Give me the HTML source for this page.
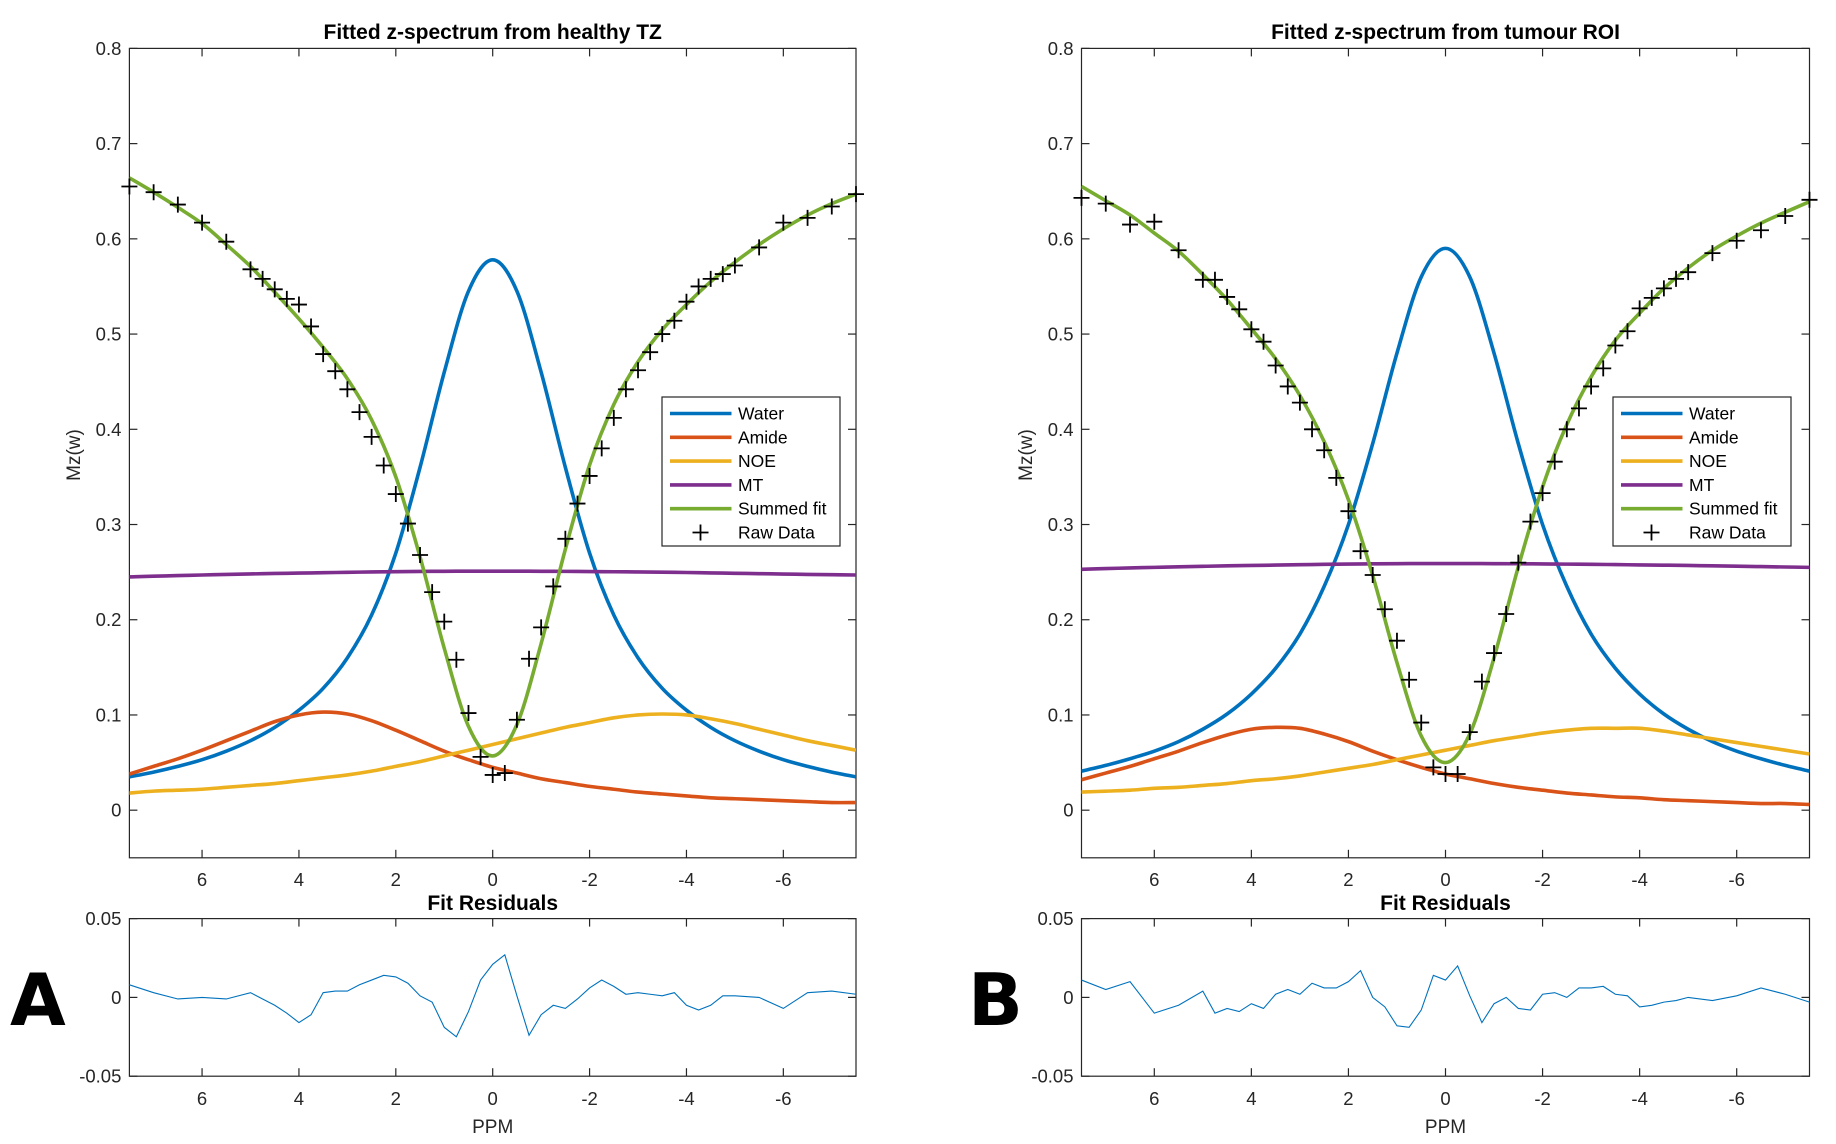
<!DOCTYPE html>
<html><head><meta charset="utf-8"><style>
html,body{margin:0;padding:0;background:#fff;}
svg{display:block;font-family:"Liberation Sans",sans-serif;}
</style></head><body>
<svg id="fig" width="1836" height="1144" viewBox="0 0 1836 1144" xmlns="http://www.w3.org/2000/svg"></svg>
<script>
// ---- shared data ----
const gridX = [7.5,7,6.5,6,5.5,5,4.5,4,3.5,3,2.5,2,1.5,1,0.5,0,-0.5,-1,-1.5,-2,-2.5,-3,-3.5,-4,-4.5,-5,-5.5,-6,-6.5,-7,-7.5];
const rawX = [7.5,7,6.5,6,5.5,5,4.75,4.5,4.25,4,3.75,3.5,3.25,3,2.75,2.5,2.25,2,1.75,1.5,1.25,1,0.75,0.5,0.25,0,-0.25,-0.5,-0.75,-1,-1.25,-1.5,-1.75,-2,-2.25,-2.5,-2.75,-3,-3.25,-3.5,-3.75,-4,-4.25,-4.5,-4.75,-5,-5.5,-6,-6.5,-7,-7.5];
const yTicks = [0.8,0.7,0.6,0.5,0.4,0.3,0.2,0.1,0];
const yTickLabels = ["0.8","0.7","0.6","0.5","0.4","0.3","0.2","0.1","0"];
const xTicks = [6,4,2,0,-2,-4,-6];
const xTickLabels = ["6","4","2","0","-2","-4","-6"];
const rTicks = [0.05,0,-0.05];
const rTickLabels = ["0.05","0","-0.05"];
const seriesNames = ["Water","Amide","NOE","MT","Summed fit","Raw Data"];

// ---- panel A (healthy TZ) ----
const waterA = [.035,.040,.046,.053,.062,.073,.087,.105,.128,.160,.205,.27,.36,.46,.545,.578,.545,.46,.36,.27,.205,.160,.128,.105,.087,.073,.062,.053,.046,.040,.035];
const amideA = [.038,.046,.054,.063,.073,.083,.093,.100,.103,.101,.094,.084,.073,.062,.053,.045,.039,.033,.029,.025,.022,.019,.017,.015,.013,.012,.011,.010,.009,.008,.008];
const noeA = [.018,.020,.021,.022,.024,.026,.028,.031,.034,.037,.041,.046,.051,.057,.063,.069,.075,.081,.087,.092,.097,.100,.101,.100,.096,.091,.085,.079,.073,.068,.063];
const mtA = [.2450,.2457,.2464,.2470,.2476,.2481,.2486,.2490,.2494,.2498,.2502,.2505,.2507,.2509,.2510,.2510,.2510,.2509,.2508,.2506,.2504,.2502,.2499,.2496,.2492,.2488,.2484,.2480,.2476,.2473,.2470];
const fitA = [.664,.649,.633,.616,.594,.571,.544,.516,.486,.453,.41,.35,.266,.17,.088,.057,.09,.175,.274,.3625,.426,.471,.5045,.531,.555,.5755,.594,.6105,.625,.637,.647];
const rawA = [.655,.649,.636,.617,.597,.568,.558,.547,.537,.531,.508,.479,.461,.442,.418,.392,.362,.332,.301,.268,.229,.198,.158,.102,.056,.037,.039,.095,.159,.192,.235,.285,.322,.351,.38,.412,.442,.462,.481,.5,.514,.534,.55,.558,.563,.572,.591,.617,.622,.634,.647];
const resA = [.008,.003,-.001,0,-.001,.003,-.001,-.005,-.01,-.016,-.011,.003,.004,.004,.008,.011,.014,.013,.009,.001,-.003,-.019,-.025,-.009,.011,.021,.027,.001,-.024,-.011,-.005,-.007,-.001,.006,.011,.007,.002,.003,.002,.001,.003,-.005,-.008,-.005,.001,.001,0,-.007,.003,.004,.002];

// ---- panel B (tumour ROI) ----
const waterB = [.041,.047,.054,.062,.072,.085,.101,.122,.149,.185,.235,.30,.385,.48,.56,.59,.56,.48,.385,.30,.235,.185,.149,.122,.101,.085,.072,.062,.054,.047,.041];
const amideB = [.032,.039,.046,.054,.062,.071,.079,.085,.087,.086,.080,.072,.062,.053,.045,.038,.033,.028,.024,.021,.018,.016,.014,.013,.011,.010,.009,.008,.007,.007,.006];
const noeB = [.019,.020,.021,.023,.024,.026,.028,.031,.033,.036,.040,.044,.048,.053,.058,.063,.068,.073,.077,.081,.084,.086,.086,.086,.083,.079,.075,.071,.067,.063,.059];
const mtB = [.2530,.2537,.2544,.2550,.2556,.2561,.2566,.2570,.2574,.2578,.2582,.2585,.2587,.2589,.2590,.2590,.2590,.2589,.2588,.2586,.2584,.2582,.2579,.2576,.2573,.2570,.2566,.2562,.2558,.2554,.2550];
const fitB = [.655,.64,.625,.606,.587,.5625,.536,.5055,.474,.4355,.387,.326,.2465,.155,.078,.05,.08,.16,.2555,.3395,.405,.455,.4935,.522,.548,.5695,.588,.603,.6165,.628,.639];
const rawB = [.643,.637,.615,.618,.588,.557,.557,.539,.526,.505,.492,.467,.445,.428,.4,.378,.349,.314,.272,.247,.211,.178,.137,.092,.045,.038,.038,.082,.135,.165,.206,.26,.303,.333,.366,.4,.422,.445,.464,.488,.503,.527,.538,.548,.558,.565,.585,.598,.609,.624,.641];
const resB = [.011,.005,.01,-.01,-.005,.004,-.01,-.007,-.009,-.004,-.007,.002,.005,.002,.009,.006,.006,.01,.017,0,-.006,-.018,-.019,-.008,.014,.011,.02,.001,-.016,-.004,0,-.007,-.008,.002,.003,0,.006,.006,.007,.002,.001,-.006,-.005,-.003,-.002,0,-.002,.001,.006,.002,-.003];

const NS = "http://www.w3.org/2000/svg";
const svg = document.getElementById('fig');
function el(tag, attrs, parent){
  const e = document.createElementNS(NS, tag);
  for (const k in attrs) e.setAttribute(k, attrs[k]);
  (parent||svg).appendChild(e);
  return e;
}
function smoothPath(pts){
  let d = "M"+pts[0][0].toFixed(2)+","+pts[0][1].toFixed(2);
  for (let i=0;i<pts.length-1;i++){
    const p0=pts[Math.max(0,i-1)], p1=pts[i], p2=pts[i+1], p3=pts[Math.min(pts.length-1,i+2)];
    const c1x=p1[0]+(p2[0]-p0[0])/6, c1y=p1[1]+(p2[1]-p0[1])/6;
    const c2x=p2[0]-(p3[0]-p1[0])/6, c2y=p2[1]-(p3[1]-p1[1])/6;
    d+=" C"+c1x.toFixed(2)+","+c1y.toFixed(2)+" "+c2x.toFixed(2)+","+c2y.toFixed(2)+" "+p2[0].toFixed(2)+","+p2[1].toFixed(2);
  }
  return d;
}
const colors = ["#0072BD","#D95319","#EDB120","#7E2F8E","#77AC30"];

function panel(cfg){
  const L=cfg.left, R=cfg.right, T=48.4, B=857.8, RT=918.6, RB=1076.2;
  const g = el('g',{});
  
  
  const sx = v => L + (7.5 - v)/15*(R-L);
  const sy = v => T + (0.8 - v)/0.85*(B-T);
  const ry = v => RT + (0.05 - v)/0.1*(RB-RT);

  const t = el('text',{x:(L+R)/2,y:39,'text-anchor':'middle','font-size':21,'font-weight':'bold',fill:'#000'},g);
  t.textContent = cfg.title;
  
  

  const box = el('rect',{x:L,y:T,width:R-L,height:B-T,fill:'none',stroke:'#262626','stroke-width':1.2},g);
  
  
  yTicks.forEach((v,i)=>{
    const y=sy(v);
    el('line',{x1:L,x2:L+8,y1:y,y2:y,stroke:'#262626','stroke-width':1.2},g);
    el('line',{x1:R,x2:R-8,y1:y,y2:y,stroke:'#262626','stroke-width':1.2},g);
    const tx = el('text',{x:L-8,y:y+6.5,'text-anchor':'end','font-size':18.5,fill:'#262626'},g);
    tx.textContent = yTickLabels[i];
    
    
  });
  xTicks.forEach((v,i)=>{
    const x=sx(v);
    el('line',{x1:x,x2:x,y1:B,y2:B-8,stroke:'#262626','stroke-width':1.2},g);
    el('line',{x1:x,x2:x,y1:T,y2:T+8,stroke:'#262626','stroke-width':1.2},g);
    const tx = el('text',{x:x,y:886,'text-anchor':'middle','font-size':18.5,fill:'#262626'},g);
    tx.textContent = xTickLabels[i];
    
    
  });
  const yl = el('text',{x:0,y:0,'text-anchor':'middle','font-size':19,fill:'#262626',transform:'translate('+(cfg.ylabX)+',455) rotate(-90)'},g);
  yl.textContent = "Mz(w)";
  
  

  const clip = el('clipPath',{id:'clip'+cfg.id},g);
  el('rect',{x:L,y:T,width:R-L,height:B-T},clip);
  const series=[cfg.water,cfg.amide,cfg.noe,cfg.mt,cfg.fit];
  const sNames=['water-curve','amide-curve','noe-curve','mt-curve','summed-fit-curve'];
  series.forEach((arr,si)=>{
    const pts = gridX.map((x,i)=>[sx(x),sy(arr[i])]);
    const p = el('path',{d:smoothPath(pts),fill:'none',stroke:colors[si],'stroke-width':3.6,'stroke-linejoin':'round','clip-path':'url(#clip'+cfg.id+')'},g);
    
    
  });
  rawX.forEach((x,i)=>{
    const cx=sx(x), cy=sy(cfg.raw[i]);
    const m = el('path',{d:`M${cx-8},${cy}H${cx+8}M${cx},${cy-8}V${cy+8}`,stroke:'#000','stroke-width':1.8,fill:'none'},g);
    
    
  });

  const lx=cfg.legX, ly=397;
  const lg = el('g',{},g);
  
  
  el('rect',{x:lx,y:ly,width:178,height:149,fill:'#fff',stroke:'#262626','stroke-width':1.2},lg);
  seriesNames.forEach((n,i)=>{
    const yy = 413.5 + i*23.8;
    const ent = el('g',{},lg);
    
    
    if(i<5){
      el('line',{x1:lx+8,x2:lx+69.5,y1:yy,y2:yy,stroke:colors[i],'stroke-width':3.6},ent);
    } else {
      const cx=lx+38.5;
      el('path',{d:`M${cx-8},${yy}H${cx+8}M${cx},${yy-8}V${yy+8}`,stroke:'#000','stroke-width':1.8},ent);
    }
    const tx = el('text',{x:lx+76,y:yy+6,'font-size':17.5,fill:'#000'},ent);
    tx.textContent = n;
  });

  const rt = el('text',{x:(L+R)/2,y:910,'text-anchor':'middle','font-size':21,'font-weight':'bold',fill:'#000'},g);
  rt.textContent = "Fit Residuals";
  
  
  const rbox = el('rect',{x:L,y:RT,width:R-L,height:RB-RT,fill:'none',stroke:'#262626','stroke-width':1.2},g);
  
  
  rTicks.forEach((v,i)=>{
    const y=ry(v);
    el('line',{x1:L,x2:L+8,y1:y,y2:y,stroke:'#262626','stroke-width':1.2},g);
    el('line',{x1:R,x2:R-8,y1:y,y2:y,stroke:'#262626','stroke-width':1.2},g);
    const tx = el('text',{x:L-8,y:y+6.5,'text-anchor':'end','font-size':18.5,fill:'#262626'},g);
    tx.textContent = rTickLabels[i];
    
    
  });
  xTicks.forEach((v,i)=>{
    const x=sx(v);
    el('line',{x1:x,x2:x,y1:RB,y2:RB-8,stroke:'#262626','stroke-width':1.2},g);
    el('line',{x1:x,x2:x,y1:RT,y2:RT+8,stroke:'#262626','stroke-width':1.2},g);
    const tx = el('text',{x:x,y:1105,'text-anchor':'middle','font-size':18.5,fill:'#262626'},g);
    tx.textContent = xTickLabels[i];
    
    
  });
  const rl = el('polyline',{points:rawX.map((x,i)=>sx(x).toFixed(2)+','+ry(cfg.res[i]).toFixed(2)).join(' '),fill:'none',stroke:'#0072BD','stroke-width':1.1},g);
  
  
  const px = el('text',{x:(L+R)/2,y:1133,'text-anchor':'middle','font-size':19,fill:'#262626'},g);
  px.textContent = "PPM";
  
  

  const pl = el('text',{x:cfg.letterX,y:1025,'font-size':72,'font-weight':'bold',fill:'#000','font-family':'"DejaVu Sans","Liberation Sans",sans-serif'},g);
  pl.textContent = cfg.letter;
  
  
}

panel({id:'healthy',title:'Fitted z-spectrum from healthy TZ',left:129.4,right:856,ylabX:80,legX:662,letterX:10,letter:'A',
  water:waterA,amide:amideA,noe:noeA,mt:mtA,fit:fitA,raw:rawA,res:resA});
panel({id:'tumour',title:'Fitted z-spectrum from tumour ROI',left:1081.5,right:1809.5,ylabX:1032,legX:1613,letterX:968,letter:'B',
  water:waterB,amide:amideB,noe:noeB,mt:mtB,fit:fitB,raw:rawB,res:resB});
</script>
</body></html>
